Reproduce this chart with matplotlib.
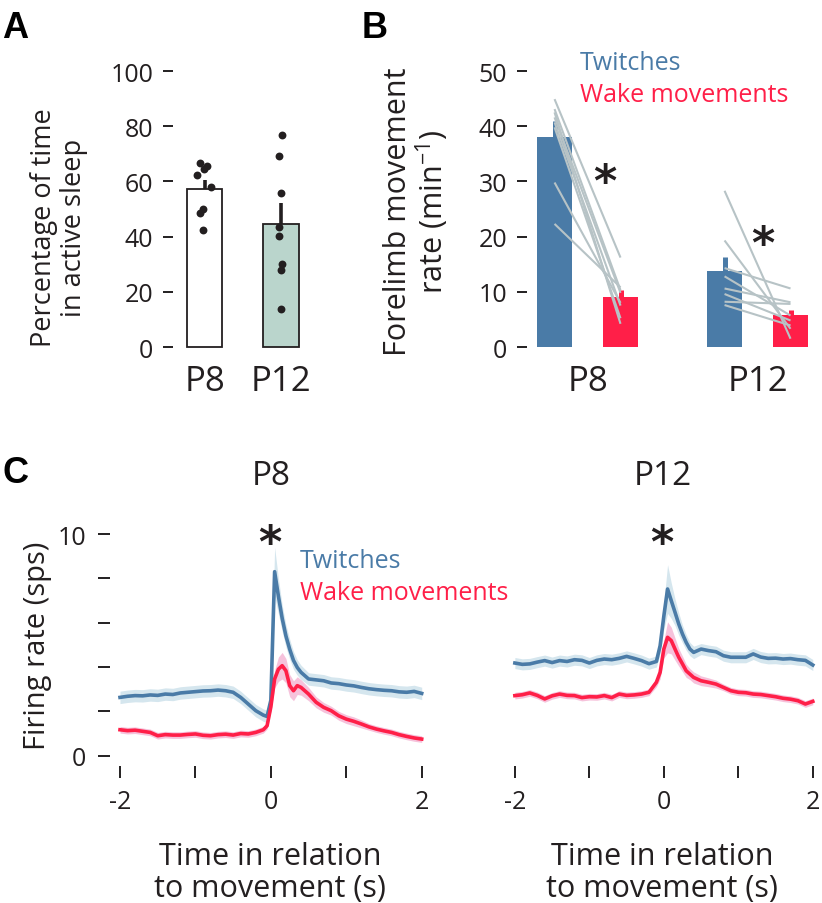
import matplotlib
matplotlib.use('Agg')
import matplotlib.pyplot as plt
import numpy as np

plt.rcParams['font.family'] = ['Open Sans', 'DejaVu Sans']
plt.rcParams['mathtext.fontset'] = 'custom'
plt.rcParams['mathtext.rm'] = 'Open Sans'
plt.rcParams['mathtext.it'] = 'Open Sans:italic'
plt.rcParams['mathtext.bf'] = 'Open Sans:bold'

# ---------------- data ----------------
ages = ['P8', 'P12']

# Panel A: percentage of time in active sleep (individual pups)
sleep_p8 = [66.5, 65.5, 62.5, 64.5, 58.0, 50.0, 48.5, 42.5]
sleep_p12 = [76.8, 69.1, 55.8, 43.6, 40.3, 30.1, 28.0, 13.8]
jitter_p8 = [-0.059, 0.037, -0.102, -0.007, 0.089, -0.015, -0.059, -0.024]
jitter_p12 = [0.009, -0.022, 0.0, -0.030, -0.022, 0.009, 0.0, 0.0]

# Panel B: forelimb movement rate (min^-1), paired per pup
twitch_p8 = [44.9, 43.1, 42.5, 41.6, 40.7, 39.8, 29.8, 22.3]
wake_p8 = [16.2, 10.3, 4.2, 9.8, 7.5, 5.2, 8.0, 10.8]
twitch_p12 = [28.3, 19.3, 14.3, 12.8, 10.6, 9.6, 8.2, 7.6]
wake_p12 = [1.5, 3.3, 10.6, 5.7, 8.1, 4.8, 7.8, 3.9]

# Panel C: firing rate (sps) around movement onset
time_s = [-2.0, -1.9, -1.8, -1.7, -1.6, -1.5, -1.4, -1.3, -1.2, -1.1, -1.0, -0.9,
          -0.8, -0.7, -0.6, -0.5, -0.4, -0.3, -0.2, -0.1, -0.05, 0.0, 0.05, 0.1,
          0.15, 0.2, 0.25, 0.3, 0.35, 0.4, 0.5, 0.6, 0.7, 0.8, 0.9, 1.0, 1.1, 1.2,
          1.3, 1.4, 1.5, 1.6, 1.7, 1.8, 1.9, 2.0]

p8_twitch = [2.63, 2.68, 2.71, 2.70, 2.74, 2.72, 2.78, 2.76, 2.83, 2.86, 2.89, 2.92,
             2.93, 2.96, 2.93, 2.86, 2.63, 2.33, 2.03, 1.83, 1.77, 2.50, 8.30, 7.20,
             6.20, 5.40, 4.80, 4.30, 3.98, 3.76, 3.46, 3.42, 3.38, 3.28, 3.25, 3.19,
             3.15, 3.08, 3.02, 2.98, 2.95, 2.93, 2.88, 2.86, 2.90, 2.81]
p8_twitch_sem = [0.28] * 21 + [0.5, 1.1, 0.8, 0.6, 0.5, 0.45, 0.4, 0.35, 0.32] + [0.28] * 16

p8_wake = [1.17, 1.13, 1.15, 1.10, 1.05, 0.90, 0.95, 0.93, 0.93, 0.96, 0.98, 0.92,
           0.90, 0.95, 0.97, 0.93, 1.00, 0.98, 1.05, 1.17, 1.35, 2.20, 3.46, 3.90,
           4.06, 3.83, 3.16, 2.93, 3.16, 3.08, 2.78, 2.41, 2.18, 2.03, 1.80, 1.65,
           1.55, 1.43, 1.30, 1.20, 1.12, 1.05, 0.95, 0.87, 0.80, 0.75]
p8_wake_sem = [0.15] * 21 + [0.2, 0.4, 0.55, 0.6, 0.55, 0.5, 0.45, 0.4, 0.35, 0.3,
                             0.25, 0.22, 0.2, 0.2, 0.2, 0.2, 0.18] + [0.15] * 8

p12_twitch = [4.18, 4.12, 4.14, 4.22, 4.29, 4.20, 4.29, 4.25, 4.33, 4.30, 4.18, 4.30,
              4.36, 4.33, 4.39, 4.48, 4.39, 4.29, 4.15, 4.25, 4.96, 6.30, 7.52, 6.99,
              6.47, 5.94, 5.49, 5.11, 4.81, 4.66, 4.81, 4.74, 4.69, 4.51, 4.44, 4.44,
              4.44, 4.59, 4.45, 4.39, 4.40, 4.36, 4.38, 4.33, 4.30, 4.09]
p12_twitch_sem = [0.25] * 20 + [0.35, 0.6, 1.1, 0.8, 0.6, 0.5, 0.4, 0.35, 0.3, 0.28] + [0.25] * 16

p12_wake = [2.71, 2.75, 2.83, 2.72, 2.56, 2.70, 2.78, 2.72, 2.71, 2.62, 2.66, 2.65,
            2.71, 2.62, 2.78, 2.72, 2.74, 2.78, 2.86, 3.31, 3.76, 4.81, 5.34, 5.19,
            4.81, 4.44, 4.14, 3.83, 3.68, 3.53, 3.38, 3.31, 3.23, 3.08, 2.93, 2.86,
            2.84, 2.78, 2.76, 2.71, 2.66, 2.59, 2.55, 2.48, 2.33, 2.45]
p12_wake_sem = [0.15] * 19 + [0.2, 0.3, 0.4, 0.7, 0.6, 0.5, 0.4, 0.35, 0.3, 0.25, 0.25,
                              0.22, 0.2, 0.18] + [0.15] * 13

# ---------------- styles ----------------
BLUE = '#4a7ba7'
RED = '#ff1f48'
BLUE_BAND = '#d5e6ee'
RED_BAND = '#f5bcd8'
GRAY_LINE = '#b7c3c6'
DARK = '#231f20'
P12_FILL = '#bad5cc'

W, H, DPI = 822, 904, 100
fig = plt.figure(figsize=(W / DPI, H / DPI), dpi=DPI)


def ax_px(x0, y0, x1, y1):
    return fig.add_axes([x0 / W, 1 - y1 / H, (x1 - x0) / W, (y1 - y0) / H])


def fx(x):
    return x / W


def fy(y):
    return 1 - y / H


def clean(ax):
    for s in ax.spines.values():
        s.set_visible(False)


TICK_FS = 18
GROUP_FS = 25
TICK_W = 1.4

# ---------------- Panel A ----------------
axA = ax_px(173, 72, 310, 348)
clean(axA)
axA.set_xlim(-0.412, 1.379)
axA.set_ylim(0, 100)
groups_A = [sleep_p8, sleep_p12]
jit_A = [jitter_p8, jitter_p12]
means_A = [np.mean(g) for g in groups_A]
sems_A = [np.std(g, ddof=1) / np.sqrt(len(g)) for g in groups_A]
xA = np.arange(len(ages))
bars = axA.bar(xA, means_A, width=0.458, color=['white', P12_FILL],
               edgecolor=DARK, linewidth=1.3, zorder=2)
for b in bars:
    b.set_clip_on(False)
axA.vlines(xA, means_A, np.array(means_A) + np.array(sems_A), color=DARK,
           linewidth=2.6, zorder=3)
for i, (g, j) in enumerate(zip(groups_A, jit_A)):
    axA.scatter(xA[i] + np.array(j), g, s=32, color=DARK, zorder=4,
                linewidths=0, clip_on=False)
axA.set_yticks([0, 20, 40, 60, 80, 100])
axA.set_xticks(xA)
axA.set_xticklabels(ages, fontsize=GROUP_FS)
axA.tick_params(axis='y', direction='out', length=7.2, width=TICK_W, colors=DARK,
                labelsize=TICK_FS, pad=7)
axA.tick_params(axis='x', length=0, pad=12, colors=DARK)
fig.text(fx(59), fy(228), 'Percentage of time\nin active sleep', rotation=90,
         ha='center', va='center', fontsize=19.5, color=DARK,
         multialignment='center', linespacing=1.1)

# ---------------- Panel B ----------------
axB = ax_px(527, 72, 815, 348)
clean(axB)
axB.set_xlim(-0.356, 1.338)
axB.set_ylim(0, 50)
off, bw = 0.194, 0.206
xB = np.arange(len(ages))
tw_groups = [twitch_p8, twitch_p12]
wk_groups = [wake_p8, wake_p12]
for i in range(len(ages)):
    for vals, sgn, col in ((tw_groups[i], -1, BLUE), (wk_groups[i], 1, RED)):
        m = np.mean(vals)
        se = np.std(vals, ddof=1) / np.sqrt(len(vals))
        xx = xB[i] + sgn * off
        axB.bar(xx, m, width=bw, color=col, linewidth=0, zorder=2)
        axB.vlines(xx, m, m + se, color=col, linewidth=3.6, zorder=2)
    for a, c in zip(tw_groups[i], wk_groups[i]):
        axB.plot([xB[i] - off, xB[i] + off], [a, c], color=GRAY_LINE,
                 linewidth=1.5, zorder=3, solid_capstyle='butt')
axB.set_yticks([0, 10, 20, 30, 40, 50])
axB.set_xticks(xB)
axB.set_xticklabels(ages, fontsize=GROUP_FS)
axB.tick_params(axis='y', direction='out', length=7.2, width=TICK_W, colors=DARK,
                labelsize=TICK_FS, pad=7)
axB.tick_params(axis='x', length=0, pad=12, colors=DARK)
fig.text(fx(417), fy(212), 'Forelimb movement\nrate (min$^{-1}$)', rotation=90,
         ha='center', va='center', fontsize=22, color=DARK,
         multialignment='center', linespacing=1.05)
fig.text(fx(580), fy(64), 'Twitches', color=BLUE, fontsize=TICK_FS,
         ha='left', va='center')
fig.text(fx(580), fy(96), 'Wake movements', color=RED, fontsize=TICK_FS,
         ha='left', va='center')
AST = dict(fontsize=32, fontweight='bold', ha='center', va='center',
           color=DARK, family='DejaVu Sans')
fig.text(fx(605), fy(183), '*', **AST)
fig.text(fx(763), fy(245), '*', **AST)

# ---------------- Panel C ----------------
t = np.array(time_s)
axL = ax_px(110, 530, 430, 767)
axR = ax_px(505, 530, 821, 767)
curves = [(axL, p8_twitch, p8_twitch_sem, p8_wake, p8_wake_sem),
          (axR, p12_twitch, p12_twitch_sem, p12_wake, p12_wake_sem)]
for ax, tw, tws, wk, wks in curves:
    clean(ax)
    ax.set_xlim(-2.1326, 2.11)
    ax.set_ylim(-0.465, 10.226)
    tw, tws, wk, wks = map(np.array, (tw, tws, wk, wks))
    ax.fill_between(t, tw - tws, tw + tws, color=BLUE_BAND, linewidth=0, zorder=1)
    ax.fill_between(t, wk - wks, wk + wks, color=RED_BAND, linewidth=0, zorder=1,
                    alpha=0.9)
    ax.plot(t, tw, color=BLUE, linewidth=2.6, zorder=3)
    ax.plot(t, wk, color=RED, linewidth=2.6, zorder=3)
    ax.set_xticks([-2, -1, 0, 1, 2])
    ax.set_xticklabels(['-2', '', '0', '', '2'])
    ax.tick_params(axis='x', direction='out', length=8.3, width=TICK_W, colors=DARK,
                   labelsize=TICK_FS, pad=8)

axL.set_yticks([0, 2, 4, 6, 8, 10])
axL.set_yticklabels(['0', '', '', '', '', '10'])
axL.tick_params(axis='y', direction='out', length=8.3, width=TICK_W, colors=DARK,
                labelsize=TICK_FS, pad=9)
axR.set_yticks([])

fig.text(fx(38), fy(646), 'Firing rate (sps)', rotation=90, ha='center',
         va='center', fontsize=21, color=DARK)
for xc, title in ((271, 'P8'), (663, 'P12')):
    fig.text(fx(xc), fy(477), title, fontsize=24, ha='center', va='center',
             color=DARK)
    fig.text(fx(xc - 1), fy(545), '*', **AST)
    fig.text(fx(xc - 1), fy(873), 'Time in relation\nto movement (s)',
             fontsize=22, ha='center', va='center', color=DARK,
             linespacing=1.05)
fig.text(fx(300), fy(561), 'Twitches', color=BLUE, fontsize=TICK_FS,
         ha='left', va='center')
fig.text(fx(300), fy(593), 'Wake movements', color=RED, fontsize=TICK_FS,
         ha='left', va='center')

# panel letters
for x, y, s in ((2, 11, 'A'), (362, 11, 'B'), (2, 456, 'C')):
    fig.text(fx(x), fy(y), s, fontsize=26, fontweight='bold', ha='left',
             va='top', color='black', family='Liberation Sans')

fig.savefig('out.png', dpi=DPI)
